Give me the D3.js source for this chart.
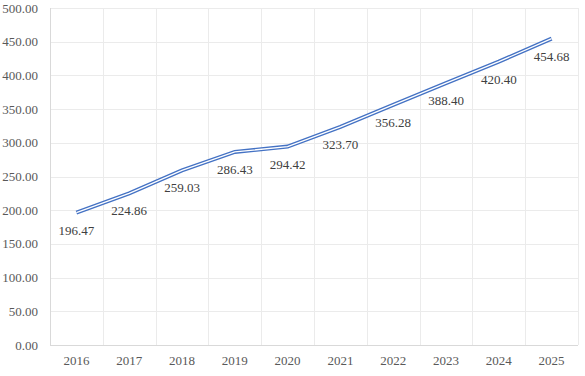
<!DOCTYPE html>
<html>
<head>
<meta charset="utf-8">
<script src="https://cdn.jsdelivr.net/npm/d3@7"></script>
<style>
  body { margin: 0; background: #fff; }
  text { font-family: "Liberation Serif", "Times New Roman", serif; }
</style>
</head>
<body>
<svg id="chart" width="585" height="376"></svg>
<script>
// data
var years = ["2016", "2017", "2018", "2019", "2020", "2021", "2022", "2023", "2024", "2025"];
var values = [196.47, 224.86, 259.03, 286.43, 294.42, 323.70, 356.28, 388.40, 420.40, 454.68];
var yTicks = [0, 50, 100, 150, 200, 250, 300, 350, 400, 450, 500];

var margin = { top: 8, right: 7, bottom: 31, left: 50 };
var width = 585 - margin.left - margin.right;
var height = 376 - margin.top - margin.bottom;

var svg = d3.select("#chart")
    .append("g")
    .attr("transform", "translate(" + margin.left + "," + margin.top + ")");

var x = d3.scaleBand().domain(years).range([0, width]);
var y = d3.scaleLinear().domain([0, 500]).range([height, 0]);

// horizontal gridlines
svg.append("g")
    .selectAll("line")
    .data(yTicks.slice(1))
    .enter().append("line")
    .attr("x1", 0).attr("x2", width)
    .attr("y1", function (d) { return Math.round(y(d)) + 0.5; })
    .attr("y2", function (d) { return Math.round(y(d)) + 0.5; })
    .attr("stroke", "#ebebeb");

// vertical gridlines at band edges
svg.append("g")
    .selectAll("line")
    .data(years.slice(1).concat(["end"]))
    .enter().append("line")
    .attr("x1", function (d, i) { return Math.round(x(years[0]) + (i + 1) * x.bandwidth()) + 0.5; })
    .attr("x2", function (d, i) { return Math.round(x(years[0]) + (i + 1) * x.bandwidth()) + 0.5; })
    .attr("y1", 0).attr("y2", height)
    .attr("stroke", "#ebebeb");

// axes lines
svg.append("line")
    .attr("x1", 0.5).attr("x2", 0.5).attr("y1", 0).attr("y2", height)
    .attr("stroke", "#d9d9d9");
svg.append("line")
    .attr("x1", 0).attr("x2", width)
    .attr("y1", Math.round(height) + 0.5).attr("y2", Math.round(height) + 0.5)
    .attr("stroke", "#d9d9d9");

// y labels
svg.append("g")
    .selectAll("text")
    .data(yTicks)
    .enter().append("text")
    .attr("x", -12)
    .attr("y", function (d) { return y(d); })
    .attr("dy", "0.35em")
    .attr("text-anchor", "end")
    .attr("font-size", 13)
    .attr("fill", "#595959")
    .text(function (d) { return d3.format(".2f")(d); });

// x labels
svg.append("g")
    .selectAll("text")
    .data(years)
    .enter().append("text")
    .attr("x", function (d) { return x(d) + x.bandwidth() / 2; })
    .attr("y", height + 20)
    .attr("text-anchor", "middle")
    .attr("font-size", 13)
    .attr("fill", "#595959")
    .text(function (d) { return d; });

var line = d3.line()
    .x(function (d, i) { return x(years[i]) + x.bandwidth() / 2; })
    .y(function (d) { return y(d); });

// double line: blue outer, white core
svg.append("path")
    .datum(values)
    .attr("d", line)
    .attr("fill", "none")
    .attr("stroke", "#4472c4")
    .attr("stroke-width", 4);
svg.append("path")
    .datum(values)
    .attr("d", line)
    .attr("fill", "none")
    .attr("stroke", "#fff")
    .attr("stroke-width", 1.3);

// data labels
svg.append("g")
    .selectAll("text")
    .data(values)
    .enter().append("text")
    .attr("x", function (d, i) { return x(years[i]) + x.bandwidth() / 2; })
    .attr("y", function (d) { return y(d) + 22; })
    .attr("text-anchor", "middle")
    .attr("font-size", 13)
    .attr("fill", "#404040")
    .text(function (d) { return d3.format(".2f")(d); });
</script>
</body>
</html>
